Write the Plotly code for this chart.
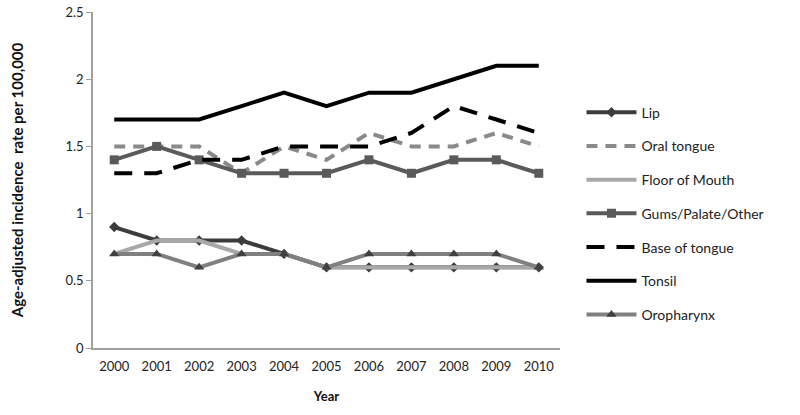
import plotly.graph_objects as go

years = ["2000", "2001", "2002", "2003", "2004", "2005", "2006", "2007", "2008", "2009", "2010"]
lip = [0.9, 0.8, 0.8, 0.8, 0.7, 0.6, 0.6, 0.6, 0.6, 0.6, 0.6]
oral_tongue = [1.5, 1.5, 1.5, 1.3, 1.5, 1.4, 1.6, 1.5, 1.5, 1.6, 1.5]
floor_of_mouth = [0.7, 0.8, 0.8, 0.7, 0.7, 0.6, 0.6, 0.6, 0.6, 0.6, 0.6]
gums = [1.4, 1.5, 1.4, 1.3, 1.3, 1.3, 1.4, 1.3, 1.4, 1.4, 1.3]
base_of_tongue = [1.3, 1.3, 1.4, 1.4, 1.5, 1.5, 1.5, 1.6, 1.8, 1.7, 1.6]
tonsil = [1.7, 1.7, 1.7, 1.8, 1.9, 1.8, 1.9, 1.9, 2.0, 2.1, 2.1]
oropharynx = [0.7, 0.7, 0.6, 0.7, 0.7, 0.6, 0.7, 0.7, 0.7, 0.7, 0.6]
y_ticks = [0, 0.5, 1, 1.5, 2, 2.5]
y_ticklabels = ["0", "0.5", "1", "1.5", "2", "2.5"]

FONT = "Lato, 'Open Sans', sans-serif"

fig = go.Figure()

series = [
    ("Lip", lip, dict(color="#3c3c3c", width=4, dash="solid"), dict(symbol="diamond", size=8, color="#3c3c3c"), "lines+markers"),
    ("Oral tongue", oral_tongue, dict(color="#8a8a8a", width=4, dash="11px,8px"), None, "lines"),
    ("Floor of Mouth", floor_of_mouth, dict(color="#a8a8a8", width=4, dash="solid"), None, "lines"),
    ("Gums/Palate/Other", gums, dict(color="#5a5a5a", width=4, dash="solid"), dict(symbol="square", size=9, color="#5a5a5a"), "lines+markers"),
    ("Base of tongue", base_of_tongue, dict(color="#000000", width=4, dash="18px,12px"), None, "lines"),
    ("Tonsil", tonsil, dict(color="#000000", width=4, dash="solid"), None, "lines"),
    ("Oropharynx", oropharynx, dict(color="#808080", width=4, dash="solid"), dict(symbol="triangle-up", size=9, color="#404040"), "lines+markers"),
]

for name, vals, line, marker, mode in series:
    kw = dict(x=years, y=vals, name=name, mode=mode, line=line, legendgroup=name)
    if marker:
        kw["marker"] = marker
    fig.add_trace(go.Scatter(**kw))

fig.update_layout(
    width=800, height=415,
    margin=dict(l=93, r=240, t=12, b=67, autoexpand=False),
    paper_bgcolor="white", plot_bgcolor="white",
    font=dict(family=FONT, size=13, color="#222"),
    showlegend=True,
    legend=dict(x=1.046, y=0.748, xanchor="left", yanchor="top",
                tracegroupgap=12.5, itemwidth=50,
                font=dict(size=14, family=FONT, color="#222"),
                bgcolor="rgba(0,0,0,0)"),
    xaxis=dict(
        type="category", range=[-0.5, 10.5], automargin=False,
        showline=True, linecolor="#a0a0a0", linewidth=1.5,
        showgrid=False, ticks="", ticklen=0, ticklabelstandoff=6,
        tickfont=dict(size=13, family=FONT, color="#222"),
        title=dict(text="<b>Year</b>", font=dict(size=13, family=FONT, color="#111"), standoff=19),
    ),
    yaxis=dict(
        range=[0, 2.5], tickvals=y_ticks, ticktext=y_ticklabels, automargin=False,
        showline=True, linecolor="#a0a0a0", linewidth=1.5,
        showgrid=False, ticks="outside", ticklen=5, tickcolor="#a0a0a0",
        tickfont=dict(size=13, family=FONT, color="#222"),
        title=dict(text="<b>Age-adjusted incidence  rate per 100,000</b>", font=dict(size=15, family=FONT, color="#111"), standoff=38),
        zeroline=False,
    ),
)

fig.write_html("out.html", config={"displayModeBar": False},
               post_script="document.body.style.margin='0';")
